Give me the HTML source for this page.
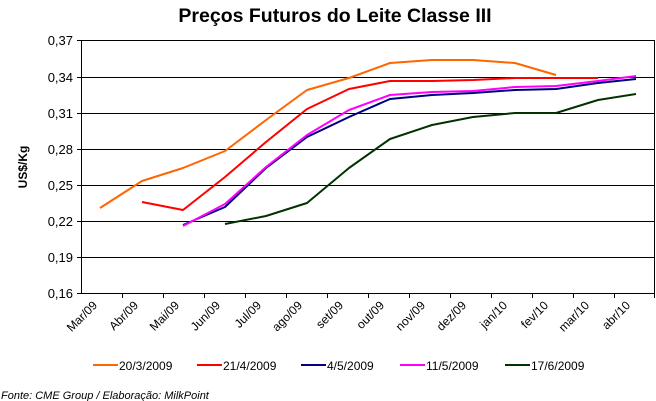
<!DOCTYPE html>
<html><head><meta charset="utf-8"><style>html,body{margin:0;padding:0;background:#fff}svg{display:block}</style></head>
<body>
<svg width="656" height="401" viewBox="0 0 656 401" xmlns="http://www.w3.org/2000/svg" font-family="Liberation Sans, Arial, sans-serif">
<rect width="656" height="401" fill="#fff"/>
<text x="335" y="22" text-anchor="middle" font-size="19.5" font-weight="bold">Preços Futuros do Leite Classe III</text>
<g stroke="#000" stroke-width="1">
<line x1="81" y1="40.5" x2="655" y2="40.5"/>
<line x1="81" y1="77.5" x2="655" y2="77.5"/>
<line x1="81" y1="113.5" x2="655" y2="113.5"/>
<line x1="81" y1="149.5" x2="655" y2="149.5"/>
<line x1="81" y1="185.5" x2="655" y2="185.5"/>
<line x1="81" y1="221.5" x2="655" y2="221.5"/>
<line x1="81" y1="257.5" x2="655" y2="257.5"/>
<line x1="81" y1="293.5" x2="655" y2="293.5"/>
<line x1="81.5" y1="40" x2="81.5" y2="294"/>
<line x1="654.5" y1="40" x2="654.5" y2="294"/>
<line x1="77" y1="40.5" x2="81" y2="40.5"/><line x1="77" y1="77.5" x2="81" y2="77.5"/><line x1="77" y1="113.5" x2="81" y2="113.5"/><line x1="77" y1="149.5" x2="81" y2="149.5"/><line x1="77" y1="185.5" x2="81" y2="185.5"/><line x1="77" y1="221.5" x2="81" y2="221.5"/><line x1="77" y1="257.5" x2="81" y2="257.5"/><line x1="77" y1="293.5" x2="81" y2="293.5"/>
</g>
<g stroke="#000"><path d="M122.5 293v5M163.5 293v5M204.5 293v5M245.5 293v5M286.5 293v5M327.5 293v5M368.5 293v5M409.5 293v5M450.5 293v5M491.5 293v5M532.5 293v5M573.5 293v5M614.5 293v5M654.5 293v5"/></g>
<g font-size="13" text-anchor="end">
<text x="73" y="45">0,37</text><text x="73" y="82">0,34</text><text x="73" y="118">0,31</text><text x="73" y="154">0,28</text><text x="73" y="190">0,25</text><text x="73" y="226">0,22</text><text x="73" y="262">0,19</text><text x="73" y="298">0,16</text>
</g>
<text transform="translate(27,167) rotate(-90)" text-anchor="middle" font-size="12" font-weight="bold">US$/Kg</text>
<g font-size="12" text-anchor="end">
<text transform="translate(98,306) rotate(-45)">Mar/09</text>
<text transform="translate(139,306) rotate(-45)">Abr/09</text>
<text transform="translate(180,306) rotate(-45)">Mai/09</text>
<text transform="translate(221,306) rotate(-45)">Jun/09</text>
<text transform="translate(262,306) rotate(-45)">Jul/09</text>
<text transform="translate(303,306) rotate(-45)">ago/09</text>
<text transform="translate(344,306) rotate(-45)">set/09</text>
<text transform="translate(385,306) rotate(-45)">out/09</text>
<text transform="translate(426,306) rotate(-45)">nov/09</text>
<text transform="translate(467,306) rotate(-45)">dez/09</text>
<text transform="translate(508,306) rotate(-45)">jan/10</text>
<text transform="translate(549,306) rotate(-45)">fev/10</text>
<text transform="translate(590,306) rotate(-45)">mar/10</text>
<text transform="translate(631,306) rotate(-45)">abr/10</text>
</g>
<g fill="none" stroke-width="2" stroke-linejoin="round">
<polyline stroke="#ff6600" points="100,208 142,181 183,168 225,151 266,120 307,90 349,78 390,63 432,60 473,60 515,63 556,75"/>
<polyline stroke="#ff0000" points="142,202 183,210 225,177 266,142 307,109 349,89 390,81 432,81 473,80 515,78 556,78 598,78"/>
<polyline stroke="#000080" points="183,225 225,207 266,168 307,137 349,117 390,99 432,95 473,93 515,90 556,89 598,83 636,79"/>
<polyline stroke="#ff00ff" points="183,226 225,204 266,167 307,135 349,110 390,95 432,92 473,91 515,87 556,86 598,81 636,76"/>
<polyline stroke="#003300" points="225,224 266,216 307,203 349,168 390,139 432,125 473,117 515,113 556,113 598,100 636,94"/>
</g>
<g stroke-width="2">
<line x1="93" y1="365" x2="118" y2="365" stroke="#ff6600"/>
<line x1="197" y1="365" x2="222" y2="365" stroke="#ff0000"/>
<line x1="301" y1="365" x2="326" y2="365" stroke="#000080"/>
<line x1="400" y1="365" x2="425" y2="365" stroke="#ff00ff"/>
<line x1="505" y1="365" x2="530" y2="365" stroke="#003300"/>
</g>
<g font-size="12">
<text x="119" y="370">20/3/2009</text>
<text x="223" y="370">21/4/2009</text>
<text x="327" y="370">4/5/2009</text>
<text x="426" y="370">11/5/2009</text>
<text x="531" y="370">17/6/2009</text>
</g>
<text x="1" y="399" font-size="11" font-style="italic">Fonte: CME Group / Elaboração: MilkPoint</text>
</svg>
</body></html>
